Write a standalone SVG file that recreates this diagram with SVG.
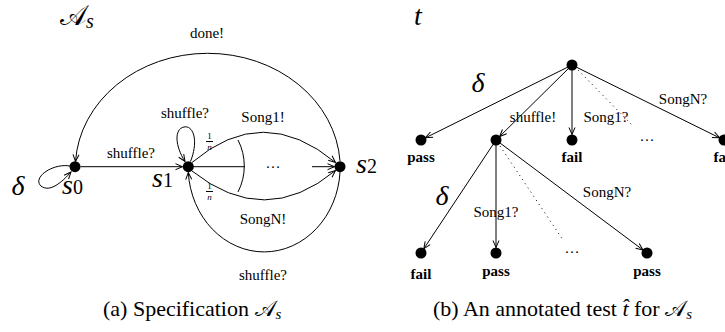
<svg xmlns="http://www.w3.org/2000/svg" width="725" height="332" viewBox="0 0 725 332">
<style>
.e{fill:none;stroke:#000;stroke-width:1}
.d{fill:none;stroke:#000;stroke-width:1;stroke-dasharray:1 4}
.n{fill:#000}
.lb{font-family:"Liberation Serif",serif;font-size:15px;fill:#000;text-anchor:middle}
.pf{font-family:"Liberation Serif",serif;font-size:15px;font-weight:bold;fill:#000;text-anchor:middle}
.m{font-family:"Liberation Serif",serif;font-size:28px;font-style:italic;fill:#000}
.fr{font-family:"Liberation Serif",serif;font-size:9px;fill:#000;text-anchor:middle}
.cap{font-family:"Liberation Serif",serif;font-size:22px;fill:#000}
.sc{font-family:"DejaVu Serif","Noto Sans","Liberation Serif",serif;font-style:normal}
</style>
<defs>
<marker id="arr" markerWidth="10" markerHeight="10" refX="8" refY="4" orient="auto" markerUnits="userSpaceOnUse">
<path d="M1,1 L8,4 L1,7" fill="none" stroke="#000" stroke-width="1"/>
</marker>
</defs>

<!-- left: specification -->
<text class="m" x="60" y="25"><tspan class="sc">𝒜</tspan><tspan font-size="20" dy="3">s</tspan></text>

<g id="connectors-a">
<path class="e" d="M340 161 A132.5 115 0 0 0 75.5 161.5" marker-end="url(#arr)"/>
<path class="e" d="M80.5 166.7 L182.5 166.7" marker-end="url(#arr)"/>
<path class="e" d="M70 166 C52 163 32 178 41 186 C50 193 62 182 71 172" marker-end="url(#arr)"/>
<path class="e" d="M190.5 161.5 C199 140 193 125 184 127 C174 129 175 146 185 161.5" marker-end="url(#arr)"/>
<path class="e" d="M192 162.5 Q263 102 335.5 162.5" marker-end="url(#arr)"/>
<path class="e" d="M192 171 Q265 229 335.5 170.5" marker-end="url(#arr)"/>
<path class="e" d="M193 166.7 L245 166.7"/>
<path class="e" d="M312 166.7 L334.5 166.7" marker-end="url(#arr)"/>
<path class="e" d="M238 140 A57 57 0 0 1 238 192"/>
<path class="e" d="M340 172 A76 85 0 0 1 188.3 172.5" marker-end="url(#arr)"/>
<text class="lb" x="207" y="38">done!</text>
<text class="lb" x="131" y="158">shuffle?</text>
<text class="lb" x="185" y="118">shuffle?</text>
<text class="lb" x="263" y="121.5">Song1!</text>
<text class="lb" x="263" y="224">SongN!</text>
<text class="lb" x="263" y="280">shuffle?</text>
<text class="lb" x="273" y="168">…</text>
<text class="fr" x="209.5" y="139">1</text>
<path class="e" d="M206 141.5 L213 141.5"/>
<text class="fr" x="209.5" y="149.5" font-style="italic">n</text>
<text class="fr" x="209.5" y="189">1</text>
<path class="e" d="M206 191.5 L213 191.5"/>
<text class="fr" x="209.5" y="199.5" font-style="italic">n</text>
</g>

<g id="s0"><circle class="n" cx="75" cy="166.7" r="5.5"/><text class="m" x="62" y="194">s<tspan font-size="20" font-style="normal">0</tspan></text></g>
<g id="s1"><circle class="n" cx="188.3" cy="166.7" r="5.5"/><text class="m" x="152" y="187">s<tspan font-size="20" font-style="normal">1</tspan></text></g>
<g id="s2"><circle class="n" cx="340" cy="166.7" r="5.5"/><text class="m" x="356" y="173">s<tspan font-size="20" font-style="normal">2</tspan></text></g>
<text class="m" x="18" y="195" text-anchor="middle">δ</text>

<text class="cap" x="103" y="316">(a) Specification <tspan class="sc" font-style="normal">𝒜</tspan><tspan font-size="15" font-style="italic" dy="3">s</tspan></text>

<!-- right: test -->
<text class="m" x="418" y="25" text-anchor="middle">t</text>

<g id="connectors-b">
<path class="e" d="M572 65 L425.5 137.8" marker-end="url(#arr)"/>
<path class="e" d="M572 65 L499.6 136.5" marker-end="url(#arr)"/>
<path class="e" d="M572 65 L572 134.5" marker-end="url(#arr)"/>
<path class="e" d="M572 65 L719.5 137.8" marker-end="url(#arr)"/>
<path class="d" d="M578 70 L634 127"/>
<path class="e" d="M496 140 L423.8 248.8" marker-end="url(#arr)"/>
<path class="e" d="M496 140 L496 247.5" marker-end="url(#arr)"/>
<path class="e" d="M496 140 L643 250" marker-end="url(#arr)"/>
<path class="d" d="M500 146 L563 240"/>
<text class="m" x="478" y="92" text-anchor="middle">δ</text>
<text class="lb" x="533" y="122">shuffle!</text>
<text class="lb" x="606" y="122">Song1?</text>
<text class="lb" x="683" y="104">SongN?</text>
<text class="lb" x="647" y="141">…</text>
<text class="m" x="442" y="205" text-anchor="middle">δ</text>
<text class="lb" x="496" y="217">Song1?</text>
<text class="lb" x="607" y="197">SongN?</text>
<text class="lb" x="572" y="253">…</text>
</g>

<g id="t-root"><circle class="n" cx="572" cy="65" r="5.5"/></g>
<g id="t-pass1"><circle class="n" cx="421" cy="140" r="5.5"/><text class="pf" x="421" y="162">pass</text></g>
<g id="t-shuffle"><circle class="n" cx="496" cy="140" r="5.5"/></g>
<g id="t-fail1"><circle class="n" cx="572" cy="140" r="5.5"/><text class="pf" x="572" y="162">fail</text></g>
<g id="t-fail2"><circle class="n" cx="724" cy="140" r="5.5"/><text class="pf" x="724" y="162">fail</text></g>
<g id="t-fail3"><circle class="n" cx="421" cy="253" r="5.5"/><text class="pf" x="421" y="279">fail</text></g>
<g id="t-pass2"><circle class="n" cx="496" cy="253" r="5.5"/><text class="pf" x="496" y="276">pass</text></g>
<g id="t-pass3"><circle class="n" cx="647" cy="253" r="5.5"/><text class="pf" x="647" y="276">pass</text></g>

<text class="cap" x="433" y="316">(b) An annotated test <tspan font-style="italic">t̂</tspan> for <tspan class="sc" font-style="normal">𝒜</tspan><tspan font-size="15" font-style="italic" dy="3">s</tspan></text>
</svg>
